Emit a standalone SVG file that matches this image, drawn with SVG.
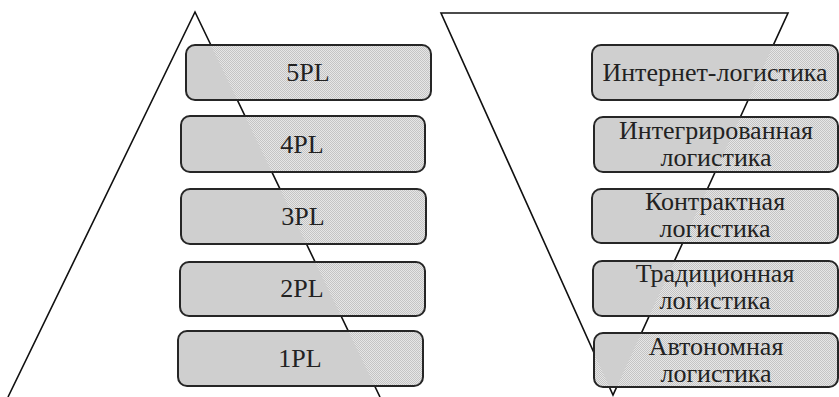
<svg xmlns="http://www.w3.org/2000/svg" width="839" height="397" viewBox="0 0 839 397">
<style>
.tri{fill:none;stroke:#111;stroke-width:1.6;stroke-linejoin:miter}
.bg{fill:url(#stip);stroke:none}
.flatL{fill:#cfcfcf;stroke:none}
.flatR{fill:#cfcfcf;stroke:none}
.bd{fill:none;stroke:#262626;stroke-width:2}
.t{font-family:"Liberation Serif","Times New Roman",serif;font-size:26px;fill:#222;text-anchor:middle}
</style>
<defs>
<pattern id="stip" width="2" height="2" patternUnits="userSpaceOnUse">
<rect width="2" height="2" fill="#e6e6e6"/>
<rect width="1" height="1" fill="#c4c4c4"/>
<rect x="1" y="1" width="1" height="1" fill="#c4c4c4"/>
</pattern>
<clipPath id="clipL"><polygon points="195,12 8,397 380,397"/></clipPath>
<clipPath id="clipR"><polygon points="441,13 788,13 613,395"/></clipPath>
</defs>
<rect width="839" height="397" fill="#fff"/>
<g id="triangles">
<polyline class="tri" points="8,397 195,12 380,397"/>
<polygon class="tri" points="441,13 788,13 613,395"/>
</g>
<g id="n5PL">
<rect class="bg" x="186" y="45" width="245" height="55" rx="9"/>
<rect class="flatL" clip-path="url(#clipL)" x="186" y="45" width="245" height="55" rx="9"/>
<rect class="bd" x="186" y="45" width="245" height="55" rx="9"/>
<text class="t" font-family="Liberation Serif, serif" x="308" y="81">5PL</text>
</g>
<g id="n4PL">
<rect class="bg" x="181" y="116" width="244" height="56" rx="9"/>
<rect class="flatL" clip-path="url(#clipL)" x="181" y="116" width="244" height="56" rx="9"/>
<rect class="bd" x="181" y="116" width="244" height="56" rx="9"/>
<text class="t" font-family="Liberation Serif, serif" x="302" y="153">4PL</text>
</g>
<g id="n3PL">
<rect class="bg" x="181" y="189" width="245" height="55" rx="9"/>
<rect class="flatL" clip-path="url(#clipL)" x="181" y="189" width="245" height="55" rx="9"/>
<rect class="bd" x="181" y="189" width="245" height="55" rx="9"/>
<text class="t" font-family="Liberation Serif, serif" x="303" y="225">3PL</text>
</g>
<g id="n2PL">
<rect class="bg" x="180" y="262" width="245" height="54" rx="9"/>
<rect class="flatL" clip-path="url(#clipL)" x="180" y="262" width="245" height="54" rx="9"/>
<rect class="bd" x="180" y="262" width="245" height="54" rx="9"/>
<text class="t" font-family="Liberation Serif, serif" x="302" y="297">2PL</text>
</g>
<g id="n1PL">
<rect class="bg" x="178" y="331" width="245" height="55" rx="9"/>
<rect class="flatL" clip-path="url(#clipL)" x="178" y="331" width="245" height="55" rx="9"/>
<rect class="bd" x="178" y="331" width="245" height="55" rx="9"/>
<text class="t" font-family="Liberation Serif, serif" x="300" y="367">1PL</text>
</g>
<g id="internet">
<rect class="bg" x="592" y="45" width="246" height="55" rx="9"/>
<rect class="flatR" clip-path="url(#clipR)" x="592" y="45" width="246" height="55" rx="9"/>
<rect class="bd" x="592" y="45" width="246" height="55" rx="9"/>
<text class="t" font-family="Liberation Serif, serif" x="715" y="81">Интернет-логистика</text>
</g>
<g id="integrated">
<rect class="bg" x="594" y="117" width="244" height="55" rx="9"/>
<rect class="flatR" clip-path="url(#clipR)" x="594" y="117" width="244" height="55" rx="9"/>
<rect class="bd" x="594" y="117" width="244" height="55" rx="9"/>
<text class="t" font-family="Liberation Serif, serif" x="716" y="139">Интегрированная</text>
<text class="t" font-family="Liberation Serif, serif" x="716" y="166">логистика</text>
</g>
<g id="contract">
<rect class="bg" x="592" y="189" width="246" height="54" rx="9"/>
<rect class="flatR" clip-path="url(#clipR)" x="592" y="189" width="246" height="54" rx="9"/>
<rect class="bd" x="592" y="189" width="246" height="54" rx="9"/>
<text class="t" font-family="Liberation Serif, serif" x="715" y="210">Контрактная</text>
<text class="t" font-family="Liberation Serif, serif" x="715" y="237">логистика</text>
</g>
<g id="traditional">
<rect class="bg" x="593" y="261" width="245" height="55" rx="9"/>
<rect class="flatR" clip-path="url(#clipR)" x="593" y="261" width="245" height="55" rx="9"/>
<rect class="bd" x="593" y="261" width="245" height="55" rx="9"/>
<text class="t" font-family="Liberation Serif, serif" x="715" y="282">Традиционная</text>
<text class="t" font-family="Liberation Serif, serif" x="715" y="309">логистика</text>
</g>
<g id="autonomous">
<rect class="bg" x="594" y="333" width="244" height="54" rx="9"/>
<rect class="flatR" clip-path="url(#clipR)" x="594" y="333" width="244" height="54" rx="9"/>
<rect class="bd" x="594" y="333" width="244" height="54" rx="9"/>
<text class="t" font-family="Liberation Serif, serif" x="716" y="355">Автономная</text>
<text class="t" font-family="Liberation Serif, serif" x="716" y="382">логистика</text>
</g>
</svg>
